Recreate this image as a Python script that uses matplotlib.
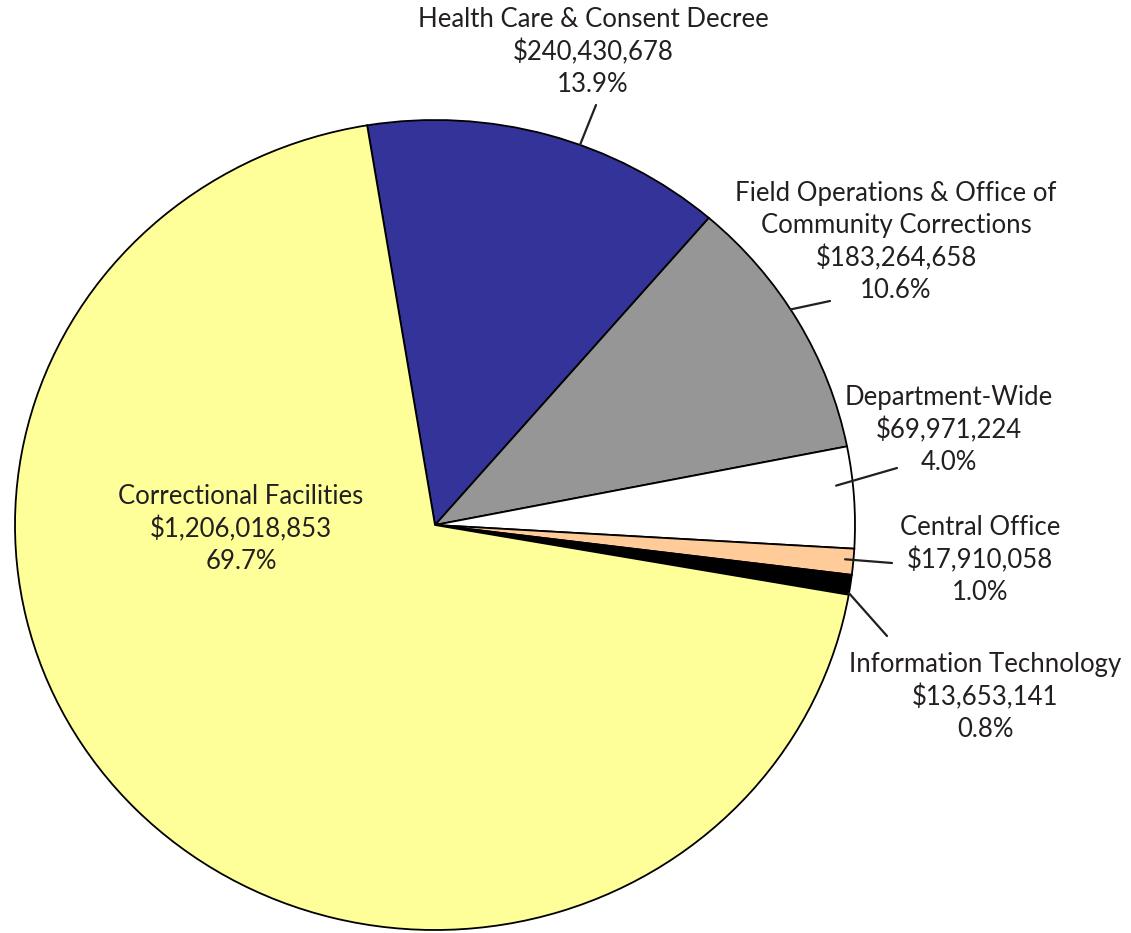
import numpy as np
import matplotlib.pyplot as plt

# budget by program area, in pie order (clockwise from the top)
names = ['Health Care & Consent Decree',
         'Field Operations & Office of\nCommunity Corrections',
         'Department-Wide',
         'Central Office',
         'Information Technology',
         'Correctional Facilities']
amounts = [240430678, 183264658, 69971224, 17910058, 13653141, 1206018853]
colors = ['#333399', '#969696', '#FFFFFF', '#FFCC99', '#000000', '#FFFF99']

W, H = 1131, 933
text_color = '#231F20'

plt.rcParams['font.family'] = ['Lato', 'DejaVu Sans']

fig = plt.figure(figsize=(W / 100, H / 100), dpi=100)

# pie axes box (pixels from top-left): the pie is slightly wider than tall
px_left, px_top, px_w, px_h = 15, 120, 840, 810
ax = fig.add_axes([px_left / W, 1 - (px_top + px_h) / H, px_w / W, px_h / H])

start = 99.3
wedges, _ = ax.pie(amounts, colors=colors, startangle=start, counterclock=False,
                   wedgeprops=dict(edgecolor='black', linewidth=1.3))
for w in wedges:
    w.set_clip_on(False)
ax.set_aspect('auto')
ax.set_xlim(-1, 1)
ax.set_ylim(-1, 1)
ax.axis('off')

total = sum(amounts)
fracs = np.array(amounts) / total

# label centres in pixels (x, y from top) and leader line end points
label_pos = [(593, 52), (896, 242), (949, 430), (980, 560), (985, 697), (241, 529)]
leader_end = [(596, 105), (830, 301), (897, 468), (892, 563), (887, 636), None]
# where along each wedge the leader starts (0 = leading edge, 1 = trailing edge)
leader_at = [0.59, 0.45, 0.37, 0.43, 0.92, None]
leader_r = [1.0, 1.0, 0.96, 0.98, 1.0, None]


def fig_frac(p):
    return (p[0] / W, 1 - p[1] / H)


cum = np.concatenate([[0], np.cumsum(fracs)])
for i, name in enumerate(names):
    label = f'{name}\n${amounts[i]:,}\n{fracs[i] * 100:.1f}%'
    fx, fy = fig_frac(label_pos[i])
    fig.text(fx, fy, label, ha='center', va='center', multialignment='center',
             fontsize=18.5, color=text_color, linespacing=1.35)
    if leader_end[i] is not None:
        ang = np.deg2rad(start - 360 * (cum[i] + leader_at[i] * fracs[i]))
        r = leader_r[i]
        ax.annotate('', xy=(r * np.cos(ang), r * np.sin(ang)), xycoords='data',
                    xytext=fig_frac(leader_end[i]), textcoords='figure fraction',
                    arrowprops=dict(arrowstyle='-', color=text_color, lw=1.6,
                                    shrinkA=0, shrinkB=0))

fig.savefig('out.png', dpi=100, facecolor='white')
